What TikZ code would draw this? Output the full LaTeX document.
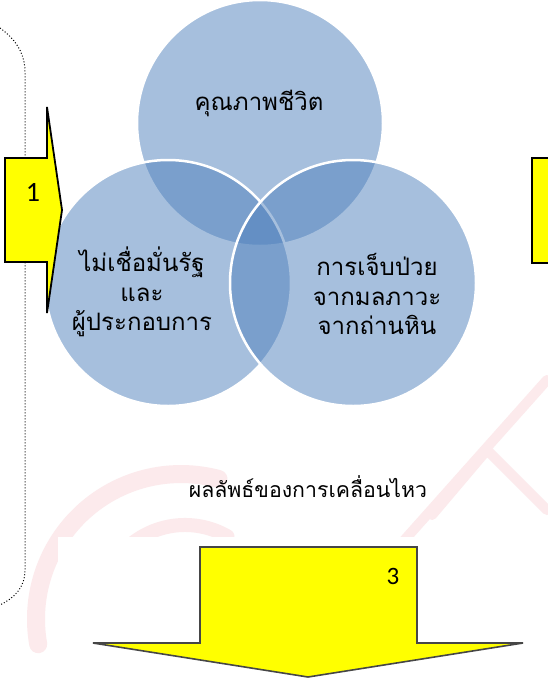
\documentclass[tikz,border=0pt]{standalone}
\usepackage{fontspec}
\newfontfamily\thaifont[Script=Thai]{Loma}
\newfontfamily\numfont{Carlito}
\definecolor{vennblue}{RGB}{79,129,189}
\definecolor{arrowyellow}{RGB}{255,255,0}
\definecolor{wmpink}{RGB}{252,234,236}
\definecolor{arrowedge}{RGB}{70,70,70}
\begin{document}
\begin{tikzpicture}[x=1pt,y=-1pt,
  venn/.style={circle, minimum size=246pt, inner sep=0pt, fill=vennblue, fill opacity=0.5, draw=white, draw opacity=1, line width=2.5pt},
  vtext/.style={font=\thaifont\fontsize{24}{29.5}\selectfont, align=center, text=black, inner sep=0pt},
  restext/.style={font=\thaifont\fontsize{21.3}{24}\selectfont, text=black, inner sep=0pt},
  yarrow/.style={fill=arrowyellow, draw=black, line width=1.8pt, line join=miter},
  yarrowB/.style={fill=arrowyellow, draw=arrowedge, line width=1.6pt, line join=miter},
  numlbl/.style={font=\numfont\fontsize{28}{28}\selectfont, text=black, inner sep=0pt},
  wm/.style={draw=wmpink, line width=10pt, line cap=round},
  bracket/.style={draw=black, dotted, line width=1pt}]
\useasboundingbox (0,0) rectangle (547,678);
\fill[white] (0,0) rectangle (547,678);
% faint watermark
\draw[wm, line width=18pt] (38.2,644.2) arc[start angle=170, end angle=285, radius=145];
\draw[wm, line width=14pt] (105.1,580.9) arc[start angle=200, end angle=300, radius=85];
\draw[wm] (547,380) -- (400,545);
\draw[wm] (432,515) -- (487,450) -- (547,510);
% white panel behind arrow 3
\fill[white] (58,537) rectangle (547,678);
% dotted bracket
\coordinate (bt) at (0,28);
\coordinate (bb) at (0,605);
\draw[bracket] (bt) .. controls (14,38) and (25,52) .. (25,72) -- (25,570) .. controls (25,588) and (14,598) .. (bb);
% venn circles
\node[venn] (ctop) at (260,123) {};
\node[venn] (cleft) at (168,283) {};
\node[venn] (cright) at (353,283) {};
\node[vtext] (ttop) at (259,103) {คุณภาพชีวิต};
\node[vtext] (tleft) at (142,292) {ไม่เชื่อมั่นรัฐ\\และ\\ผู้ประกอบการ};
\node[vtext] (tright) at (377,294) {การเจ็บป่วย\\จากมลภาวะ\\จากถ่านหิน};
% arrow 1
\draw[yarrow] (5,158) -- (47,158) -- (47,107) -- (62,210) -- (47,313) -- (47,262) -- (5,262) -- cycle;
\node[numlbl] (n1) at (33,192) {1};
% right box (cut off)
\draw[yarrow] (560,158) -- (532,158) -- (532,263) -- (560,263);
% result text
\node[restext] (res) at (308,487) {ผลลัพธ์ของการเคลื่อนไหว};
% arrow 3
\draw[yarrowB] (200,547) -- (417,547) -- (417,643) -- (523,643) -- (308,677) -- (93,643) -- (200,643) -- cycle;
\node[numlbl, font=\numfont\fontsize{25}{25}\selectfont] (n3) at (393,576) {3};
\end{tikzpicture}
\end{document}
